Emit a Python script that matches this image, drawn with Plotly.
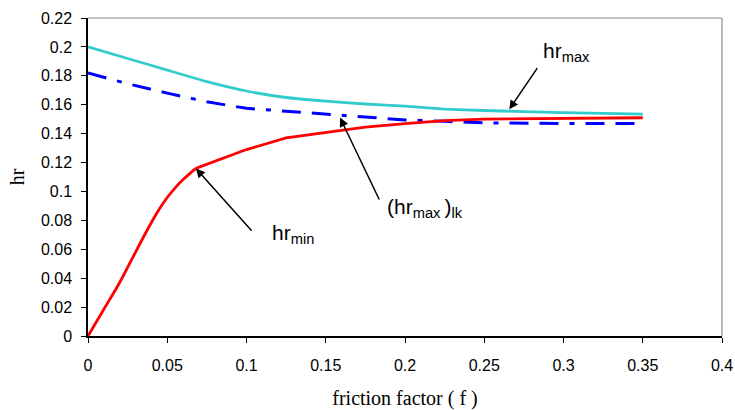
import plotly.graph_objects as go

# friction factor values and series
f_min = [0, 0.01, 0.02, 0.03, 0.035, 0.04, 0.045, 0.05, 0.055, 0.06, 0.068, 0.1, 0.125, 0.15, 0.175, 0.2, 0.225, 0.25, 0.3, 0.35]
hr_min = [0, 0.0185, 0.037, 0.058, 0.0685, 0.0785, 0.0878, 0.0958, 0.1025, 0.1082, 0.116, 0.129, 0.137, 0.141, 0.1445, 0.147, 0.149, 0.150, 0.1507, 0.151]

f_max = [0, 0.025, 0.05, 0.075, 0.1, 0.125, 0.15, 0.175, 0.2, 0.225, 0.25, 0.3, 0.35]
hr_max = [0.2, 0.192, 0.184, 0.176, 0.1695, 0.165, 0.1625, 0.1605, 0.159, 0.157, 0.156, 0.1545, 0.1535]

f_lk = [0, 0.025, 0.05, 0.075, 0.1, 0.125, 0.15, 0.175, 0.2, 0.225, 0.25, 0.3, 0.35]
hr_max_lk = [0.182, 0.1745, 0.168, 0.162, 0.1575, 0.1555, 0.153, 0.151, 0.1495, 0.1485, 0.1475, 0.147, 0.147]

x_ticks = [0, 0.05, 0.1, 0.15, 0.2, 0.25, 0.3, 0.35, 0.4]
x_tick_text = ["0", "0.05", "0.1", "0.15", "0.2", "0.25", "0.3", "0.35", "0.4"]
y_ticks = [0, 0.02, 0.04, 0.06, 0.08, 0.1, 0.12, 0.14, 0.16, 0.18, 0.2, 0.22]
y_tick_text = ["0", "0.02", "0.04", "0.06", "0.08", "0.1", "0.12", "0.14", "0.16", "0.18", "0.2", "0.22"]

RED = "#FF0000"
fig = go.Figure()
fig.add_trace(go.Scatter(x=f_max, y=hr_max, mode="lines", line=dict(color="#33CCCC", width=2.8, shape="spline", smoothing=0.4)))
fig.add_trace(go.Scatter(x=f_lk, y=hr_max_lk, mode="lines", line=dict(color="#0000FF", width=3, dash="19px,11px,5px,11px,19px,11px")))
# hr_min: smooth rising part up to the kink, straight segments after it
k = f_min.index(0.068)
fig.add_trace(go.Scatter(x=f_min[:k + 1], y=hr_min[:k + 1], mode="lines", line=dict(color=RED, width=2.8, shape="spline", smoothing=0.8)))
fig.add_trace(go.Scatter(x=f_min[k:], y=hr_min[k:], mode="lines", line=dict(color=RED, width=2.8)))

afont = dict(family="Liberation Sans, Arial, sans-serif", size=21, color="black")
arrow = dict(showarrow=True, arrowhead=2, arrowsize=1.2, arrowwidth=1.5, arrowcolor="black",
             axref="x", ayref="y", text="")
fig.add_annotation(x=0.2658, y=0.1568, ax=0.2841, ay=0.1864, **arrow)
fig.add_annotation(x=0.0681, y=0.1158, ax=0.1041, ay=0.0717, **arrow)
fig.add_annotation(x=0.159, y=0.1511, ax=0.1842, ay=0.0934, **arrow)
fig.add_annotation(x=0.286, y=0.1963, text="hr<sub>max</sub>", showarrow=False, xanchor="left", yanchor="middle", font=afont)
fig.add_annotation(x=0.1148, y=0.0704, text="hr<sub>min</sub>", showarrow=False, xanchor="left", yanchor="middle", font=afont)
fig.add_annotation(x=0.1874, y=0.0883, text="(hr<sub>max </sub>)<sub>lk</sub>", showarrow=False, xanchor="left", yanchor="middle", font=afont)

# top and right frame lines (gray)
fig.add_shape(type="line", xref="paper", yref="paper", x0=0, x1=1, y0=1, y1=1, line=dict(color="#8C8C8C", width=1.2))
fig.add_shape(type="line", xref="paper", yref="paper", x0=1, x1=1, y0=0, y1=1, line=dict(color="#8C8C8C", width=1.2))

tfont = dict(family="Liberation Sans, Arial, sans-serif", size=16, color="black")
serif = dict(family="Liberation Serif, Times New Roman, serif", size=20, color="black")
fig.update_layout(
    width=735, height=410,
    margin=dict(l=88, r=13, t=18, b=74),
    paper_bgcolor="white", plot_bgcolor="white",
    showlegend=False,
    xaxis=dict(range=[0, 0.4], tickvals=x_ticks, ticktext=x_tick_text, showgrid=False, zeroline=False,
               showline=True, linecolor="black", linewidth=1.5, ticks="outside", ticklen=5, tickcolor="black",
               tickfont=tfont, ticklabelstandoff=9, automargin=False,
               title=dict(text="friction factor ( f )", font=serif, standoff=22)),
    yaxis=dict(range=[0, 0.22], tickvals=y_ticks, ticktext=y_tick_text, showgrid=False, zeroline=False,
               showline=True, linecolor="black", linewidth=1.5, ticks="outside", ticklen=5, tickcolor="black",
               tickfont=tfont, ticklabelstandoff=6, automargin=False,
               title=dict(text="hr", font=serif, standoff=11)),
)
fig.write_html("out.html")
